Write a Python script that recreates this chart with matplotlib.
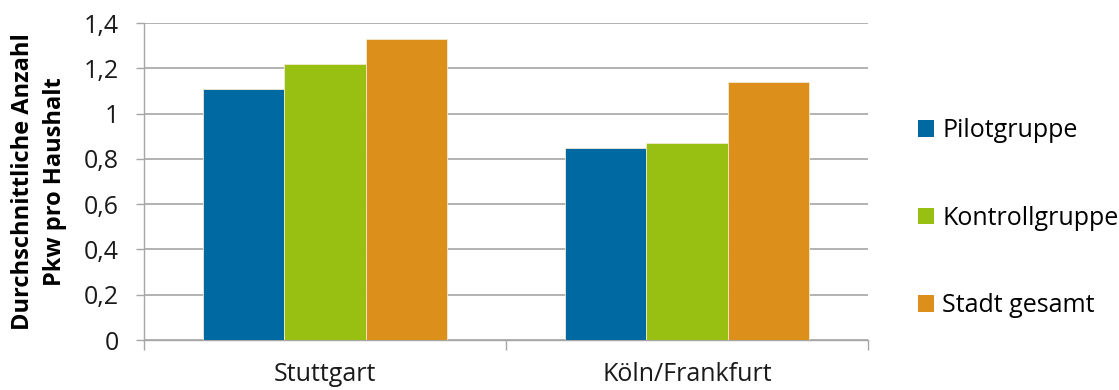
import matplotlib
matplotlib.use("Agg")
import matplotlib.pyplot as plt
from matplotlib.patches import Patch
import numpy as np

categories = ["Stuttgart", "Köln/Frankfurt"]
series_names = ["Pilotgruppe", "Kontrollgruppe", "Stadt gesamt"]
pilot = [1.11, 0.85]
kontroll = [1.22, 0.87]
stadt = [1.33, 1.14]
yticks = [0, 0.2, 0.4, 0.6, 0.8, 1.0, 1.2, 1.4]
ytick_labels = ["0", "0,2", "0,4", "0,6", "0,8", "1", "1,2", "1,4"]
ylabel = "Durchschnittliche Anzahl\nPkw pro Haushalt"

colors = ["#0069A2", "#98C012", "#DC901B"]
font = ["Open Sans", "DejaVu Sans"]
plt.rcParams["font.family"] = font

fig = plt.figure(figsize=(11.19, 3.9), dpi=100)
ax = fig.add_axes([0.1287, 0.1282, 0.7757 - 0.1287, 0.941 - 0.1282])

x = np.arange(len(categories))
w = 0.224
for i, (vals, c) in enumerate(zip([pilot, kontroll, stadt], colors)):
    ax.bar(x + (i - 1) * w, vals, width=w, color=c, edgecolor="#F3E9D0",
           linewidth=0.6, zorder=3)

ax.set_xlim(-0.5, 1.5)
ax.set_ylim(0, 1.4)
ax.set_yticks(yticks)
ax.set_yticklabels(ytick_labels, fontsize=18, color="#1a1a1a")
ax.yaxis.grid(True, color="#A6A6A6", linewidth=1.2, zorder=0)
ax.tick_params(axis="y", length=6, width=1, color="#A6A6A6", pad=12)

ax.set_xticks(x)
ax.set_xticklabels(categories, fontsize=18, color="#1a1a1a")
ax.tick_params(axis="x", which="major", length=0, pad=16)
ax.set_xticks([-0.5, 0.5, 1.5], minor=True)
ax.tick_params(axis="x", which="minor", length=7, width=1, color="#A6A6A6")

for s in ["top", "right"]:
    ax.spines[s].set_visible(False)
for s in ["left", "bottom"]:
    ax.spines[s].set_color("#A6A6A6")
    ax.spines[s].set_linewidth(1)

ax.set_ylabel(ylabel, fontsize=17, fontweight="bold", labelpad=12,
              linespacing=1.45)

handles = [Patch(facecolor=c, edgecolor="none") for c in colors]
fig.legend(handles, series_names, loc="center left",
           bbox_to_anchor=(0.811, 0.44), frameon=False, fontsize=18,
           handlelength=0.64, handleheight=0.64, handletextpad=0.35,
           labelspacing=2.5, borderaxespad=0)

fig.savefig("out.png", dpi=100)
